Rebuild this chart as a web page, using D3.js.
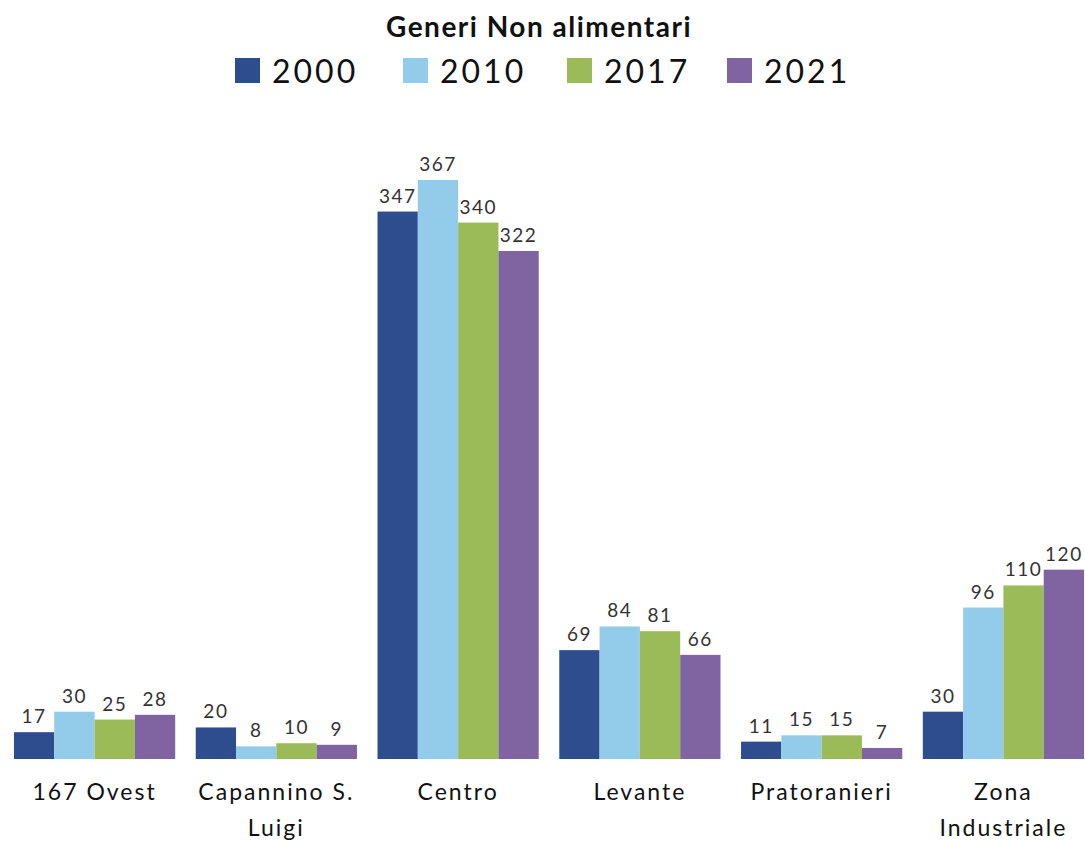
<!DOCTYPE html>
<html><head><meta charset="utf-8">
<script src="https://cdn.jsdelivr.net/npm/d3@7"></script>
<style>body{margin:0;background:#fff}svg{display:block}</style>
</head><body>
<svg id="c" width="1085" height="842"></svg>
<script>
const title = "Generi Non alimentari";
const categories = [["167 Ovest"],["Capannino S.","Luigi"],["Centro"],["Levante"],["Pratoranieri"],["Zona","Industriale"]];
const years = ["2000","2010","2017","2021"];
const v2000 = [17,20,347,69,11,30];
const v2010 = [30,8,367,84,15,96];
const v2017 = [25,10,340,81,15,110];
const v2021 = [28,9,322,66,7,120];
const colors = ["#2E4D8E","#93CCEA","#9BBB59","#8064A2"];
const series = [v2000,v2010,v2017,v2021];

const svg = d3.select("#c");
const font = "Lato, 'Open Sans', sans-serif";
const x0 = d3.scaleBand().domain(d3.range(categories.length)).range([3.7,1094.3]).paddingInner(0.113).paddingOuter(0.0565);
const x1 = d3.scaleBand().domain(d3.range(years.length)).range([0,x0.bandwidth()]);
const y = d3.scaleLinear().domain([0,367]).range([759,180]);

svg.append("text").attr("x",539).attr("y",37).attr("text-anchor","middle")
  .attr("font-family",font).attr("font-weight","bold").attr("font-size",28).attr("letter-spacing",1.5).attr("fill","#111").text(title);

const legX = [235,403,567,727];
const lg = svg.append("g");
years.forEach((yr,i)=>{
  lg.append("rect").attr("x",legX[i]).attr("y",58).attr("width",25).attr("height",25).attr("fill",colors[i]);
  lg.append("text").attr("x",legX[i]+37).attr("y",83).attr("font-family",font).attr("font-size",32)
    .attr("letter-spacing",3).attr("fill","#111").text(yr);
});

const g = svg.append("g");
categories.forEach((cat,ci)=>{
  series.forEach((s,si)=>{
    const bx = x0(ci)+x1(si);
    g.append("rect").attr("x",bx).attr("y",y(s[ci])).attr("width",x1.bandwidth()).attr("height",y(0)-y(s[ci])).attr("fill",colors[si]);
    g.append("text").attr("x",bx+x1.bandwidth()/2).attr("y",y(s[ci])-9).attr("text-anchor","middle")
      .attr("font-family",font).attr("font-size",19).attr("letter-spacing",1.5).attr("fill","#333").text(s[ci]);
  });
  cat.forEach((line,li)=>{
    g.append("text").attr("x",x0(ci)+x0.bandwidth()/2).attr("y",800+li*36).attr("text-anchor","middle")
      .attr("font-family",font).attr("font-size",23).attr("letter-spacing",2).attr("fill","#111").text(line);
  });
});
</script>
</body></html>
